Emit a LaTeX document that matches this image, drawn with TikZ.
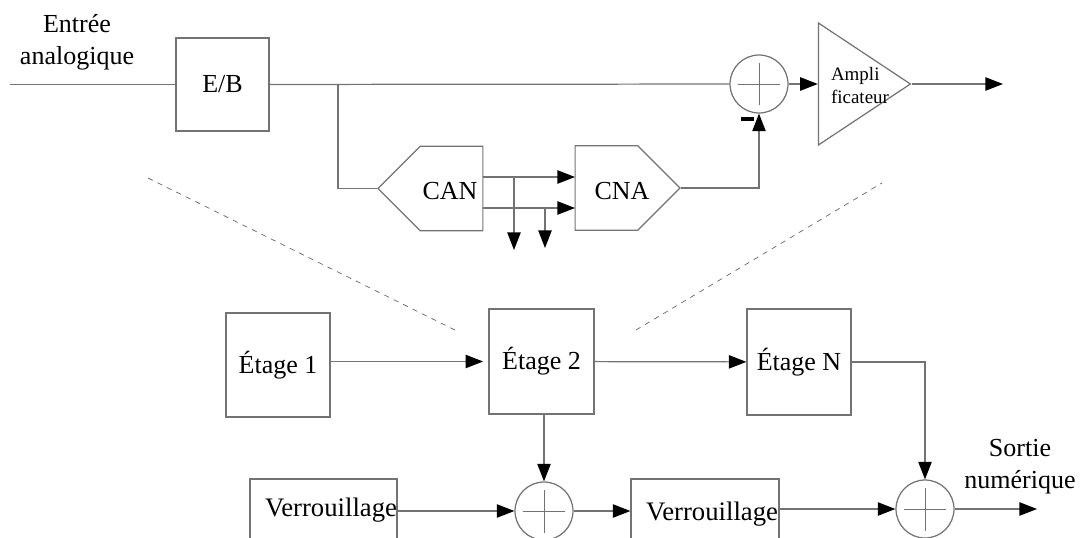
\documentclass[tikz,border=0pt]{standalone}
\usepackage{fontspec}
\setmainfont{Liberation Serif}
\usetikzlibrary{calc,arrows.meta,shapes.geometric,shapes.symbols}
\begin{document}
\begin{tikzpicture}[x=.02cm,y=-.02cm,
  line/.style={draw=black!55,line width=.7pt},
  arr/.style={line,-{Triangle[length=10pt,width=7.6pt,color=black]}},
  zoomline/.style={line,draw=black!60,dashed,line width=.4pt},
  lbl/.style={inner sep=0pt,font=\fontsize{14.8}{18.2}\selectfont,align=center},
  box/.style={line,rectangle,inner sep=0pt,font=\fontsize{14.8}{17}\selectfont},
  sumnode/.style={line,circle,inner sep=0pt,minimum size=1.16cm,path picture={
    \draw[line,line width=.45pt] ([xshift=-.43cm]path picture bounding box.center) -- ([xshift=.43cm]path picture bounding box.center);
    \draw[line,line width=.45pt] ([yshift=-.43cm]path picture bounding box.center) -- ([yshift=.43cm]path picture bounding box.center);}},
  conv/.style={line,signal,inner sep=0pt,signal pointer angle=90,minimum width=2.1cm,minimum height=1.69cm}]
\useasboundingbox (0,0) rectangle (1080,538);
\clip (0,0) rectangle (1080,538);
%analog stage
\coordinate (in) at (10,84.5);
\node[box,minimum width=1.86cm,minimum height=1.86cm] (eb) at (222.5,84.5) {E/B};
\node[sumnode] (sum) at (759,84) {};
\node[line,isosceles triangle,isosceles triangle stretches,inner sep=0pt,minimum width=2.44cm,minimum height=1.84cm,anchor=apex] (amp) at (912,84) {};
\node[lbl,align=left,font=\fontsize{10.8}{13.6}\selectfont] (amptxt) at (860,85.5) {Ampli\\ficateur};
\coordinate (out) at (1003,84);
\node[conv,signal to=west] (can) at (451.5,188.5) {};
\node[conv,signal to=east] (cna) at (606.5,188) {};
\node[lbl] (cantxt) at (450,191) {CAN};
\node[lbl] (cnatxt) at (622,191) {CNA};
\node[lbl] (intxt) at (77,42) {Entrée\\analogique};
\node[fill=black,inner sep=0pt,minimum width=.26cm,minimum height=.08cm] (minus) at (747.5,119) {};
\coordinate (tap) at (338,85);
\coordinate (canup) at (483,177);
\coordinate (canlow) at (483,208);
\coordinate (cnaup) at (575,177);
\coordinate (cnalow) at (575,208);
\coordinate (bit1) at (514,177);
\coordinate (bit2) at (545,208);
\coordinate (bit1end) at (514,250);
\coordinate (bit2end) at (545,248);
\draw[line] (in) -- (eb);
\draw[line] (eb) -- (sum);
\draw[arr] (sum) -- (sum -| amp.lower side);
\draw[arr] (amp.apex) -- (out);
\draw[line] (tap) |- (can.west);
\draw[arr] (canup) -- (cnaup);
\draw[arr] (canlow) -- (cnalow);
\draw[arr] (bit1) -- (bit1end);
\draw[arr] (bit2) -- (bit2end);
\draw[arr] (cna.east) -| (sum.south);
%zoom lines
\coordinate (dl1) at (148,178);
\coordinate (dl2) at (455,330);
\coordinate (dr1) at (636,330);
\coordinate (dr2) at (882,183);
\draw[zoomline] (dl1) -- (dl2);
\draw[zoomline] (dr1) -- (dr2);
%pipeline
\node[box,minimum width=2.08cm,minimum height=2.08cm] (e1) at (278,365) {Étage 1};
\node[box,minimum width=2.1cm,minimum height=2.1cm] (e2) at (541.5,361.5) {Étage 2};
\node[box,minimum width=2.08cm,minimum height=2.12cm] (en) at (799,362) {Étage N};
\node[box,minimum width=2.94cm,minimum height=1.8cm] (v1) at (323.5,524) {};
\node[box,minimum width=2.96cm,minimum height=1.8cm] (v2) at (705,524) {};
\node[lbl,font=\fontsize{15.2}{17}\selectfont] (v1txt) at (331,510) {Verrouillage};
\node[lbl,font=\fontsize{15.2}{17}\selectfont] (v2txt) at (712,514) {Verrouillage};
\node[sumnode] (s1) at (544,511) {};
\node[sumnode] (s2) at (925,509) {};
\node[lbl] (outtxt) at (1020,467) {Sortie\\numérique};
\coordinate (end) at (1037,509);
\draw[arr,shorten >=3pt] (e2 -| e1.east) -- (e2);
\draw[arr] (e2) -- (en);
\draw[arr] (e2.south -| s1) -- (s1);
\draw[arr] (en.east) -| (s2);
\draw[arr] (v1.east |- s1) -- (s1);
\draw[arr] (s1) -- (v2.west |- s1);
\draw[arr] (v2.east |- s2) -- (s2);
\draw[arr] (s2) -- (end);
\end{tikzpicture}
\end{document}
